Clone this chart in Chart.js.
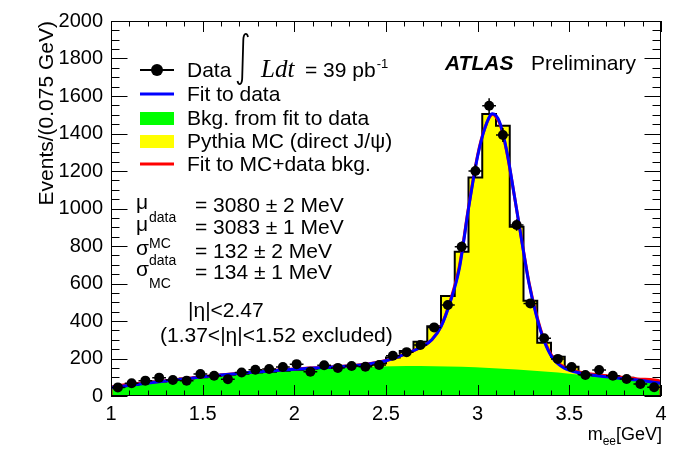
<!DOCTYPE html>
<html>
<head>
<meta charset="utf-8">
<script src="https://cdn.jsdelivr.net/npm/chart.js@4.4.1/dist/chart.umd.min.js"></script>
<style>
	html, body { margin: 0; padding: 0; background: #fff; }
	#plot { display: block; }
</style>
</head>
<body>
<canvas id="plot" width="696" height="472"></canvas>
<script>
"use strict";

// bin centres of the m_ee histogram (GeV), 0.075 GeV wide
const binWidth = 0.075;
const binCenters = [1.0375, 1.1125, 1.1875, 1.2625, 1.3375, 1.4125, 1.4875, 1.5625, 1.6375, 1.7125,
	1.7875, 1.8625, 1.9375, 2.0125, 2.0875, 2.1625, 2.2375, 2.3125, 2.3875, 2.4625,
	2.5375, 2.6125, 2.6875, 2.7625, 2.8375, 2.9125, 2.9875, 3.0625, 3.1375, 3.2125,
	3.2875, 3.3625, 3.4375, 3.5125, 3.5875, 3.6625, 3.7375, 3.8125, 3.8875, 3.9625];

// data events per bin
const dataCounts = [46, 68, 82, 98, 85, 82, 117, 108, 90, 125,
	140, 144, 155, 170, 130, 164, 150, 160, 156, 165,
	215, 234, 272, 366, 485, 796, 1200, 1548, 1392, 912,
	494, 308, 198, 155, 112, 139, 108, 91, 64, 47];

// Pythia MC (direct J/psi) + data background, per bin
const mcCounts = [50, 60, 69, 78, 86, 93, 100, 107, 113, 119,
	125, 130, 135, 140, 145, 150, 155, 160, 166, 175,
	205, 240, 290, 372, 534, 770, 1166, 1504, 1442, 903,
	508, 284, 210, 156, 118, 110, 104, 97, 90, 80];

// background from fit to data, per bin
const bkgCounts = [50, 60, 69, 78, 86, 93, 100, 106, 112, 118,
	124, 129, 134, 139, 143, 147, 150, 153, 156, 158,
	159, 160, 160, 159, 158, 156, 153, 150, 146, 141,
	136, 131, 125, 118, 111, 103, 95, 87, 78, 70];

// fit to data (blue)
const fitX = [1.0, 1.25, 1.5, 1.75, 2.0, 2.25, 2.4, 2.5, 2.6, 2.7, 2.75, 2.8, 2.85, 2.9, 2.95,
	3.0, 3.04, 3.08, 3.12, 3.16, 3.2, 3.24, 3.28, 3.32, 3.36, 3.41, 3.47, 3.56, 3.7, 3.87, 4.0];
const fitY = [45, 75, 102, 125, 143, 157, 170, 188, 222, 265, 300, 370, 500, 680, 1000,
	1280, 1430, 1505, 1460, 1300, 1070, 830, 600, 430, 300, 200, 150, 122, 103, 85, 68];

// fit to MC + data background (red)
const mcFitX = [1.0, 1.0, 1.25, 1.5, 1.75, 2.0, 2.25, 2.4, 2.5, 2.6, 2.7, 2.75, 2.8, 2.85, 2.9, 2.95,
	3.0, 3.04, 3.08, 3.12, 3.16, 3.2, 3.24, 3.28, 3.32, 3.36, 3.41, 3.47, 3.56, 3.7, 3.87, 4.0, 4.0];
const mcFitY = [0, 46, 76, 103, 126, 144, 158, 171, 189, 222, 265, 300, 372, 505, 690, 1005,
	1285, 1432, 1502, 1455, 1295, 1068, 832, 605, 436, 306, 206, 155, 127, 108, 91, 76, 0];

const xTickValues = [1, 1.5, 2, 2.5, 3, 3.5, 4];
const yTickValues = [0, 200, 400, 600, 800, 1000, 1200, 1400, 1600, 1800, 2000];

const FONT = "'Liberation Sans', Arial, sans-serif";

Chart.defaults.font.family = FONT;
Chart.defaults.font.size = 20;
Chart.defaults.color = '#000';

// histogram as steps along the bin edges
const stepPoints = values => {
	const pts = [];
	values.forEach((v, i) => {
		pts.push({ x: binCenters[i] - binWidth / 2, y: v });
		pts.push({ x: binCenters[i] + binWidth / 2, y: v });
	});
	return pts;
};

const bkgPoints = [{ x: 1.0, y: bkgCounts[0] }]
	.concat(binCenters.map((x, i) => ({ x, y: bkgCounts[i] })))
	.concat([{ x: 4.0, y: bkgCounts[bkgCounts.length - 1] }]);

const errorBars = {
	id: 'errorBars',
	afterDatasetsDraw(chart) {
		const { ctx, scales: { x, y } } = chart;
		ctx.save();
		ctx.strokeStyle = '#000';
		ctx.lineWidth = 1.5;
		dataCounts.forEach((n, i) => {
			const cx = x.getPixelForValue(binCenters[i]);
			const cy = y.getPixelForValue(n);
			const err = Math.sqrt(n);
			ctx.beginPath();
			ctx.moveTo(x.getPixelForValue(binCenters[i] - binWidth / 2), cy);
			ctx.lineTo(x.getPixelForValue(binCenters[i] + binWidth / 2), cy);
			ctx.moveTo(cx, y.getPixelForValue(n - err));
			ctx.lineTo(cx, y.getPixelForValue(n + err));
			ctx.stroke();
		});
		ctx.restore();
	}
};

const text = (ctx, s, x, y, font, align) => {
	ctx.font = font;
	ctx.textAlign = align || 'left';
	ctx.textBaseline = 'alphabetic';
	ctx.fillText(s, x, y);
	return ctx.measureText(s).width;
};

// frame, inward ticks, legend and labels in ROOT style
const decorations = {
	id: 'decorations',
	afterDraw(chart) {
		const { ctx, chartArea: a, scales: { x, y } } = chart;
		ctx.save();
		ctx.strokeStyle = '#000';
		ctx.fillStyle = '#000';
		ctx.lineWidth = 1;

		ctx.strokeRect(a.left + 0.5, a.top + 0.5, a.right - a.left - 1, a.bottom - a.top - 1);

		ctx.beginPath();
		for (let v = 1; v <= 4.0001; v += 0.1) {
			const px = Math.round(x.getPixelForValue(v)) + 0.5;
			const major = Math.abs(v * 2 - Math.round(v * 2)) < 1e-6;
			const len = major ? 11 : 5.5;
			ctx.moveTo(px, a.bottom);
			ctx.lineTo(px, a.bottom - len);
			ctx.moveTo(px, a.top);
			ctx.lineTo(px, a.top + len);
		}
		for (let v = 0; v <= 2000; v += 50) {
			const py = Math.round(y.getPixelForValue(v)) + 0.5;
			const len = v % 200 === 0 ? 16.5 : 8.5;
			ctx.moveTo(a.left, py);
			ctx.lineTo(a.left + len, py);
			ctx.moveTo(a.right, py);
			ctx.lineTo(a.right - len, py);
		}
		ctx.stroke();

		// axis titles
		const f21 = `21px ${FONT}`;
		const f14 = `14px ${FONT}`;
		ctx.save();
		ctx.translate(47, a.top);
		ctx.rotate(-Math.PI / 2);
		ctx.font = f21;
		ctx.textAlign = 'right';
		ctx.textBaseline = 'middle';
		ctx.fillText('Events/(0.075 GeV)', 0, 0);
		ctx.restore();

		const f18 = `18px ${FONT}`;
		const f12 = `12px ${FONT}`;
		ctx.font = f18;
		const wM = ctx.measureText('m').width;
		const wG = ctx.measureText('[GeV]').width;
		ctx.font = f12;
		const wE = ctx.measureText('ee').width;
		let tx = a.right + 1 - wM - wE - wG;
		tx += text(ctx, 'm', tx, 440, f18);
		tx += text(ctx, 'ee', tx, 445, f12);
		text(ctx, '[GeV]', tx, 440, f18);

		// legend
		ctx.lineWidth = 2;
		ctx.beginPath();
		ctx.moveTo(140, 70);
		ctx.lineTo(174, 70);
		ctx.stroke();
		ctx.beginPath();
		ctx.arc(157, 70, 6, 0, Math.PI * 2);
		ctx.fill();
		ctx.lineWidth = 3;
		ctx.strokeStyle = '#0000ff';
		ctx.beginPath();
		ctx.moveTo(140, 94);
		ctx.lineTo(174, 94);
		ctx.stroke();
		ctx.fillStyle = '#00ff00';
		ctx.fillRect(140, 112, 34, 13);
		ctx.fillStyle = '#ffff00';
		ctx.fillRect(140, 135, 34, 13);
		ctx.strokeStyle = '#ff0000';
		ctx.beginPath();
		ctx.moveTo(140, 164);
		ctx.lineTo(174, 164);
		ctx.stroke();

		ctx.fillStyle = '#000';
		ctx.strokeStyle = '#000';
		text(ctx, 'Data', 187, 77, f21);
		ctx.lineWidth = 1.8;
		ctx.beginPath();
		ctx.moveTo(248, 37);
		ctx.bezierCurveTo(247, 32, 243.5, 33, 243.3, 40);
		ctx.lineTo(242.2, 78);
		ctx.bezierCurveTo(242, 85, 238.5, 86, 237.5, 81);
		ctx.stroke();
		text(ctx, 'Ldt', 261, 77, `italic 25px 'Liberation Serif', serif`);
		const w39 = text(ctx, '= 39 pb', 305, 77, f21);
		text(ctx, '-1', 305 + w39 + 1, 68, `13px ${FONT}`);
		text(ctx, 'Fit to data', 187, 101, f21);
		text(ctx, 'Bkg. from fit to data', 187, 125, f21);
		text(ctx, 'Pythia MC (direct J/\u03c8)', 187, 148, f21);
		text(ctx, 'Fit to MC+data bkg.', 187, 171, f21);

		text(ctx, 'ATLAS', 445, 70, `italic bold 21px ${FONT}`);
		text(ctx, 'Preliminary', 531, 70, f21);

		// fit results
		const rows = [
			['\u03bc', 'data', '= 3080 \u00b1 2 MeV', 212, 10],
			['\u03bc', 'MC', '= 3083 \u00b1 1 MeV', 234, 14],
			['\u03c3', 'data', '= 132 \u00b1 2 MeV', 258, 7],
			['\u03c3', 'MC', '= 134 \u00b1 1 MeV', 279, 9]
		];
		rows.forEach(([g, sub, val, base, off]) => {
			text(ctx, g, 136, base - 3, f21);
			text(ctx, sub, 149, base + off, f14);
			text(ctx, val, 195, base, f21);
		});
		text(ctx, '|\u03b7|<2.47', 188, 317, f21);
		text(ctx, '(1.37<|\u03b7|<1.52 excluded)', 160, 342, f21);

		ctx.restore();
	}
};

const ctx = document.querySelector('#plot').getContext('2d');

new Chart(ctx, {
	type: 'line',
	data: {
		datasets: [
			{
				label: 'Data',
				data: binCenters.map((x, i) => ({ x, y: dataCounts[i] })),
				showLine: false,
				pointRadius: 5,
				pointBackgroundColor: '#000',
				pointBorderWidth: 0,
				order: 0
			},
			{
				label: 'Fit to data',
				data: fitX.map((x, i) => ({ x, y: fitY[i] })),
				borderColor: '#0000ff',
				borderWidth: 3,
				pointRadius: 0,
				cubicInterpolationMode: 'monotone',
				order: 1
			},
			{
				label: 'Fit to MC+data bkg.',
				data: mcFitX.map((x, i) => ({ x, y: mcFitY[i] })),
				borderColor: '#ff0000',
				borderWidth: 3,
				pointRadius: 0,
				tension: 0.3,
				order: 2
			},
			{
				label: 'MC outline',
				data: stepPoints(mcCounts),
				borderColor: '#000',
				borderWidth: 2,
				pointRadius: 0,
				fill: false,
				order: 3
			},
			{
				label: 'Bkg. from fit to data',
				data: bkgPoints,
				borderWidth: 0,
				borderColor: 'rgba(0,0,0,0)',
				backgroundColor: '#00ff00',
				pointRadius: 0,
				fill: 'origin',
				order: 4
			},
			{
				label: 'Pythia MC (direct J/psi)',
				data: stepPoints(mcCounts),
				borderWidth: 0,
				borderColor: 'rgba(0,0,0,0)',
				backgroundColor: '#ffff00',
				pointRadius: 0,
				fill: 'origin',
				order: 5
			}
		]
	},
	options: {
		responsive: false,
		animation: false,
		layout: { padding: { left: 0, right: 35, top: 21, bottom: 0 } },
		plugins: {
			legend: { display: false },
			tooltip: { enabled: false }
		},
		scales: {
			x: {
				type: 'linear',
				min: 1,
				max: 4,
				grid: { display: false, drawTicks: false },
				border: { display: false },
				ticks: { padding: 6, maxRotation: 0, callback: v => String(v) },
				afterBuildTicks: s => { s.ticks = xTickValues.map(v => ({ value: v })); },
				afterFit: s => { s.height = 76; }
			},
			y: {
				type: 'linear',
				min: 0,
				max: 2000,
				grid: { display: false, drawTicks: false },
				border: { display: false },
				ticks: { padding: 8, callback: v => String(v) },
				afterBuildTicks: s => { s.ticks = yTickValues.map(v => ({ value: v })); },
				afterFit: s => { s.width = 111; }
			}
		}
	},
	plugins: [errorBars, decorations]
});
</script>
</body>
</html>
